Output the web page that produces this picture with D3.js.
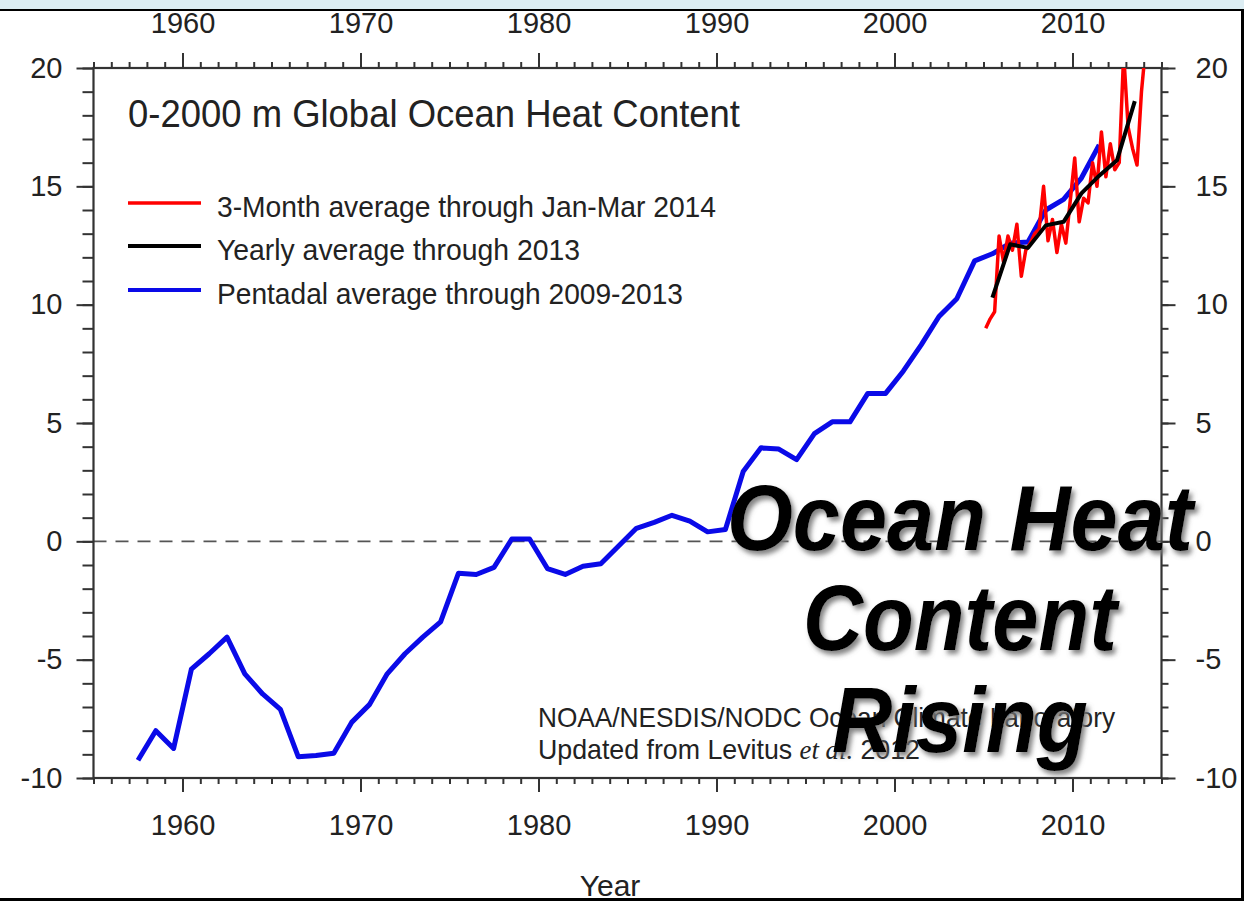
<!DOCTYPE html>
<html>
<head>
<meta charset="utf-8">
<script src="https://cdn.jsdelivr.net/npm/d3@7"></script>
<style>
  html, body { margin: 0; padding: 0; background: #fff; }
  svg { display: block; }
  text { font-family: "Liberation Sans", Arial, Helvetica, sans-serif; }
</style>
</head>
<body>
<svg id="chart" width="1244" height="901"></svg>
<script>
// Pentadal (5-year running) averages, plotted at the pentad centre
const pentadYears = [1957.5,1958.5,1959.5,1960.5,1961.5,1962.5,1963.5,1964.5,1965.5,1966.5,
  1967.5,1968.5,1969.5,1970.5,1971.5,1972.5,1973.5,1974.5,1975.5,1976.5,
  1977.5,1978.5,1979.5,1980.5,1981.5,1982.5,1983.5,1984.5,1985.5,1986.5,
  1987.5,1988.5,1989.5,1990.5,1991.5,1992.5,1993.5,1994.5,1995.5,1996.5,
  1997.5,1998.5,1999.5,2000.5,2001.5,2002.5,2003.5,2004.5,2005.5,2006.5,
  2007.5,2008.5,2009.5,2010.5,2011.5];
const pentadValues = [-9.25,-8.0,-8.75,-5.4,-4.75,-4.05,-5.6,-6.45,-7.1,-9.1,
  -9.05,-8.95,-7.65,-6.9,-5.6,-4.75,-4.05,-3.4,-1.35,-1.4,
  -1.1,0.1,0.1,-1.15,-1.4,-1.05,-0.95,-0.2,0.55,0.8,
  1.1,0.85,0.4,0.5,2.95,3.95,3.9,3.45,4.55,5.05,
  5.05,6.25,6.25,7.2,8.3,9.5,10.25,11.85,12.15,12.6,
  12.65,14.0,14.45,15.35,16.75];

// Yearly averages, plotted at mid-year
const yearlyYears = [2005.5,2006.5,2007.5,2008.5,2009.5,2010.5,2011.5,2012.5,2013.5];
const yearlyValues = [10.3,12.55,12.4,13.35,13.5,14.7,15.45,16.1,18.6];

// 3-month averages, Jan-Mar 2005 through Jan-Mar 2014
const quarterFirstYear = 2005;
const quarterValues = [9.0,9.4,9.7,12.9, 11.8,12.9,12.3,13.4, 11.2,12.3,12.6,13.0,
  13.2,15.0,12.7,13.6, 12.2,13.4,12.6,14.4, 16.2,13.5,14.5,14.3,
  16.0,15.0,17.3,15.4, 16.8,15.7,16.0,20.6, 17.5,16.6,15.9,19.0, 21.0];

const yearTicks = [1960,1970,1980,1990,2000,2010];
const valueTicks = [-10,-5,0,5,10,15,20];

const legendLabels = ["3-Month average through Jan-Mar 2014",
  "Yearly average through 2013",
  "Pentadal average through 2009-2013"];
const legendColors = ["#ff0000", "#000000", "#0a0ae8"];

const svg = d3.select("#chart");
const W = 1244, H = 901;

const x = d3.scaleLinear().domain([1955, 2015]).range([93.5, 1161.5]);
const y = d3.scaleLinear().domain([-10, 20]).range([778, 68]);

// page frame: light band on top, dark rules
svg.append("rect").attr("x", 0).attr("y", 0).attr("width", W).attr("height", 9).attr("fill", "#dcedf3");
svg.append("rect").attr("x", 0).attr("y", 9).attr("width", W).attr("height", 2).attr("fill", "#000");
svg.append("rect").attr("x", 1241).attr("y", 9).attr("width", 3).attr("height", H - 9).attr("fill", "#000");
svg.append("rect").attr("x", 0).attr("y", 898).attr("width", W).attr("height", 3).attr("fill", "#000");

const defs = svg.append("defs");
defs.append("clipPath").attr("id", "plotClip")
  .append("rect").attr("x", x.range()[0]).attr("y", y(20)).attr("width", x.range()[1] - x.range()[0]).attr("height", y(-10) - y(20));
const shadow = defs.append("filter").attr("id", "shadow").attr("x", "-10%").attr("y", "-10%").attr("width", "130%").attr("height", "140%");
shadow.append("feDropShadow").attr("dx", 3).attr("dy", 4).attr("stdDeviation", 2.5).attr("flood-color", "#777").attr("flood-opacity", 0.9);

// zero reference line
svg.append("line")
  .attr("x1", x(1955)).attr("x2", x(2015)).attr("y1", y(0)).attr("y2", y(0))
  .attr("stroke", "#555").attr("stroke-width", 1.6).attr("stroke-dasharray", "13,9");

// axes: minor ticks every year / unit, major ticks every 10 years / 5 units
const axisColor = "#333";
const plain = d => String(d);
function styleAxis(g) {
  g.select(".domain").remove();
  g.selectAll(".tick line").attr("stroke", axisColor).attr("stroke-width", 2);
  g.selectAll(".tick text").attr("fill", "#222").style("font-size", "29px")
    .style("font-family", "'Liberation Sans', Arial, sans-serif");
}
const minorYears = d3.range(1955, 2016);
const minorValues = d3.range(-10, 21);

svg.append("g").attr("transform", `translate(0,${y(-10)})`)
  .call(d3.axisBottom(x).tickValues(minorYears).tickSize(6).tickFormat(""))
  .call(styleAxis);
svg.append("g").attr("transform", `translate(0,${y(-10)})`)
  .call(d3.axisBottom(x).tickValues(yearTicks).tickSize(14).tickPadding(22).tickFormat(plain))
  .call(styleAxis);
svg.append("g").attr("transform", `translate(0,${y(20)})`)
  .call(d3.axisTop(x).tickValues(minorYears).tickSize(6).tickFormat(""))
  .call(styleAxis);
svg.append("g").attr("transform", `translate(0,${y(20)})`)
  .call(d3.axisTop(x).tickValues(yearTicks).tickSize(15).tickPadding(20).tickFormat(plain))
  .call(styleAxis);
svg.append("g").attr("transform", `translate(${x(1955)},0)`)
  .call(d3.axisLeft(y).tickValues(minorValues).tickSize(11).tickFormat(""))
  .call(styleAxis);
svg.append("g").attr("transform", `translate(${x(1955)},0)`)
  .call(d3.axisLeft(y).tickValues(valueTicks).tickSize(17).tickPadding(14).tickFormat(plain))
  .call(styleAxis);
svg.append("g").attr("transform", `translate(${x(2015)},0)`)
  .call(d3.axisRight(y).tickValues(minorValues).tickSize(7).tickFormat(""))
  .call(styleAxis);
svg.append("g").attr("transform", `translate(${x(2015)},0)`)
  .call(d3.axisRight(y).tickValues(valueTicks).tickSize(14).tickPadding(20).tickFormat(plain))
  .call(styleAxis);

// plot frame
svg.append("rect")
  .attr("x", x(1955)).attr("y", y(20)).attr("width", x(2015) - x(1955)).attr("height", y(-10) - y(20))
  .attr("fill", "none").attr("stroke", axisColor).attr("stroke-width", 2.2);

svg.append("text").attr("x", 610).attr("y", 896).attr("text-anchor", "middle")
  .style("font-size", "30px").attr("fill", "#222").text("Year");

// data series
const line = d3.line().x(d => x(d[0])).y(d => y(d[1]));
const plot = svg.append("g").attr("clip-path", "url(#plotClip)");

const pentad = pentadYears.map((t, i) => [t, pentadValues[i]]);
const yearly = yearlyYears.map((t, i) => [t, yearlyValues[i]]);
const quarterly = quarterValues.map((v, i) => [quarterFirstYear + (i + 0.5) / 4, v]);

plot.append("path").datum(pentad).attr("d", line)
  .attr("fill", "none").attr("stroke", legendColors[2]).attr("stroke-width", 5).attr("stroke-linejoin", "round");
plot.append("path").datum(quarterly).attr("d", line)
  .attr("fill", "none").attr("stroke", legendColors[0]).attr("stroke-width", 3.5).attr("stroke-linejoin", "round");
plot.append("path").datum(yearly).attr("d", line)
  .attr("fill", "none").attr("stroke", legendColors[1]).attr("stroke-width", 4).attr("stroke-linejoin", "round");

// title and legend
svg.append("text").attr("x", 128).attr("y", 127)
  .attr("textLength", 612).attr("lengthAdjust", "spacingAndGlyphs")
  .style("font-size", "38px").attr("fill", "#222").text("0-2000 m Global Ocean Heat Content");

const legendRows = [203, 246, 290];
const legendWidths = [499, 363, 466];
legendLabels.forEach((lab, i) => {
  svg.append("line").attr("x1", 128).attr("x2", 201).attr("y1", legendRows[i]).attr("y2", legendRows[i])
    .attr("stroke", legendColors[i]).attr("stroke-width", i === 0 ? 3.5 : 4);
  svg.append("text").attr("x", 217).attr("y", legendRows[i] + 14)
    .attr("textLength", legendWidths[i]).attr("lengthAdjust", "spacingAndGlyphs")
    .style("font-size", "30px").attr("fill", "#222").text(lab);
});

// credits
svg.append("text").attr("x", 538).attr("y", 727)
  .attr("textLength", 577).attr("lengthAdjust", "spacingAndGlyphs")
  .style("font-size", "28px").attr("fill", "#222").text("NOAA/NESDIS/NODC Ocean Climate Laboratory");
const cred = svg.append("text").attr("x", 538).attr("y", 759)
  .attr("textLength", 382).attr("lengthAdjust", "spacingAndGlyphs")
  .style("font-size", "28px").attr("fill", "#222");
cred.append("tspan").text("Updated from Levitus ");
cred.append("tspan").style("font-family", "'Liberation Serif', 'Times New Roman', serif").style("font-style", "italic").text("et al.");
cred.append("tspan").text(" 2012");

// overlay caption
const caption = ["Ocean Heat", "Content", "Rising"];
const captionY = [550, 650, 752];
const captionW = [466, 314, 256];
caption.forEach((c, i) => {
  svg.append("text").attr("x", 960).attr("y", captionY[i]).attr("text-anchor", "middle")
    .attr("textLength", captionW[i]).attr("lengthAdjust", "spacingAndGlyphs")
    .style("font-size", "92px").style("font-weight", "bold").style("font-style", "italic")
    .attr("fill", "#000").attr("filter", "url(#shadow)").text(c);
});
</script>
</body>
</html>
